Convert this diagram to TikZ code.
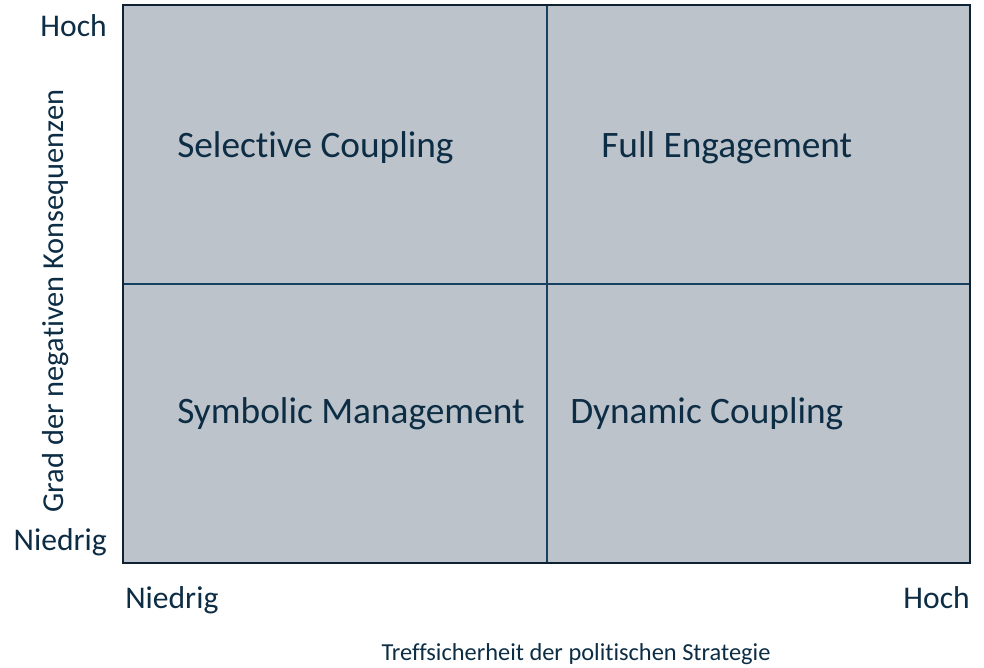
\documentclass[tikz,border=0pt]{standalone}
\usepackage{fontspec}
\setmainfont{Carlito}[Ligatures={NoCommon}]
\usepackage{tikz}
\usetikzlibrary{positioning}
\definecolor{cellfill}{HTML}{BDC3CA}
\definecolor{gridline}{HTML}{173F5F}
\definecolor{framecol}{HTML}{0F2233}
\definecolor{labeltext}{HTML}{0D2D45}
\tikzset{
  quadlabel/.style={text=labeltext, font=\fontsize{28}{32}\selectfont, inner sep=0pt, anchor=base west},
  ticklabel/.style={text=labeltext, font=\fontsize{23.7}{28}\selectfont, inner sep=0pt},
  axistitle/.style={text=labeltext, inner sep=0pt, anchor=base},
}
\begin{document}
\begin{tikzpicture}[x=0.75pt, y=-0.75pt]
    \useasboundingbox (0, 0) rectangle (984, 667);

    % Draw the quadrant field
    \fill[cellfill] (123, 5) rectangle (970, 563);
    \draw[gridline, line width=1.5pt] (547, 5) -- (547, 563);
    \draw[gridline, line width=1.5pt] (123, 284) -- (970, 284);
    \draw[framecol, line width=1.2pt] (123, 5) rectangle (970, 563);

    % Add quadrant labels
    \node[quadlabel] (selective) at (177, 157) {Selective Coupling};
    \node[quadlabel] (full) at (601, 157) {Full Engagement};
    \node[quadlabel] (symbolic) at (177, 423) {Symbolic Management};
    \node[quadlabel] (dynamic) at (570, 423) {Dynamic Coupling};

    % Add axis labels
    \node[ticklabel, anchor=base east] (yhigh) at (107, 37) {Hoch};
    \node[ticklabel, anchor=base east] (ylow) at (107, 550) {Niedrig};
    \node[ticklabel, anchor=base west] (xlow) at (125, 608) {Niedrig};
    \node[ticklabel, anchor=base east] (xhigh) at (970, 608) {Hoch};
    \node[axistitle, font=\fontsize{18.3}{22}\selectfont] (xtitle) at (576, 660) {Treffsicherheit der politischen Strategie};
    \node[axistitle, font=\fontsize{22.8}{27}\selectfont, rotate=90] (ytitle) at (63, 301) {Grad der negativen Konsequenzen};
  \end{tikzpicture}
\end{document}
